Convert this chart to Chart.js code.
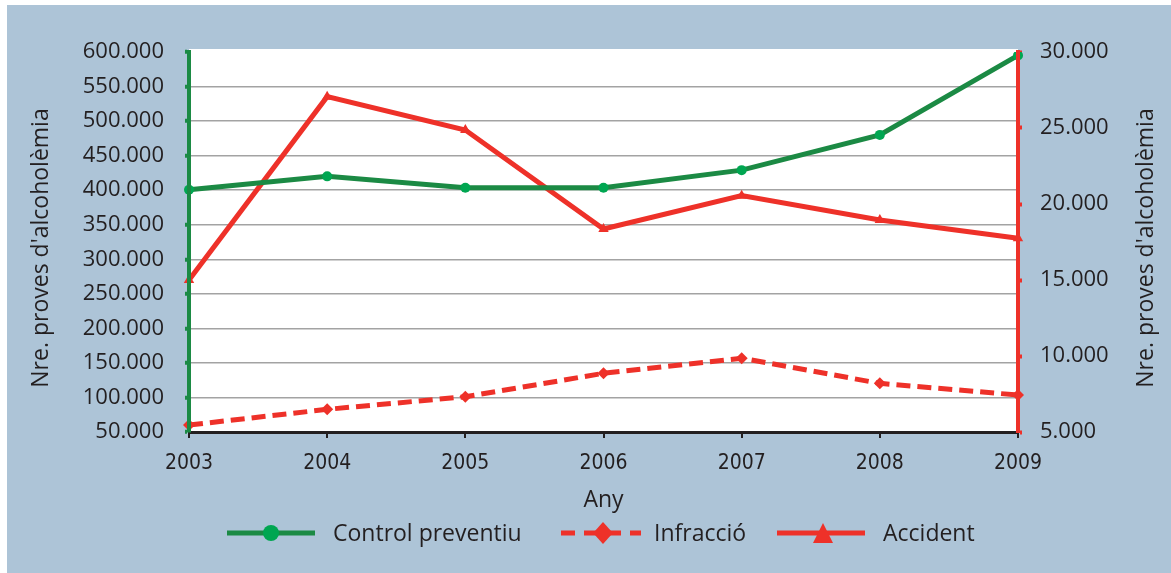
<!DOCTYPE html>
<html>
<head>
<meta charset="utf-8">
<script src="https://cdn.jsdelivr.net/npm/chart.js@4"></script>
<style>
  html, body { margin: 0; padding: 0; background: #fff; }
  #wrap { width: 1171px; height: 573px; }
</style>
</head>
<body>
<div id="wrap"><canvas id="myChart" width="1171" height="573"></canvas></div>
<script>
const anys = ['2003', '2004', '2005', '2006', '2007', '2008', '2009']
const controlPreventiu = [400500, 420000, 403500, 403500, 429000, 480000, 595000]
const infraccio = [5460, 6490, 7320, 8860, 9850, 8200, 7430]
const accident = [15000, 27060, 24870, 18360, 20550, 18950, 17740]

const blau = '#adc4d7'
const verd = '#1b8a44'
const verdPunt = '#00a651'
const vermell = '#ee3129'
const textColor = '#231f20'
const fontNum = "'Open Sans', sans-serif"
const fontNarrow = "'DejaVu Sans Condensed', 'Liberation Sans Narrow', sans-serif"
const titolY = "Nre. proves d'alcoholèmia"

function punts(v) {
    return String(v).replace(/\B(?=(\d{3})+(?!\d))/g, '.')
}

const fons = {
    id: 'fons',
    beforeDraw(chart) {
        const ctx = chart.ctx
        const a = chart.chartArea
        ctx.save()
        ctx.fillStyle = '#fff'
        ctx.fillRect(0, 0, chart.width, chart.height)
        ctx.fillStyle = blau
        ctx.fillRect(7, 5, chart.width - 7, chart.height - 5)
        ctx.fillStyle = '#fff'
        ctx.fillRect(a.left, a.top - 3, a.right - a.left, a.bottom - a.top + 3)
        ctx.restore()
    }
}

function marca(ctx, tipus, x, y, r, color) {
    ctx.fillStyle = color
    ctx.beginPath()
    if (tipus == 'circle') {
        ctx.arc(x, y, r, 0, Math.PI * 2)
    } else if (tipus == 'rectRot') {
        ctx.moveTo(x, y - r)
        ctx.lineTo(x + r * 0.9, y)
        ctx.lineTo(x, y + r)
        ctx.lineTo(x - r * 0.9, y)
    } else {
        ctx.moveTo(x, y - r)
        ctx.lineTo(x + r, y + r)
        ctx.lineTo(x - r, y + r)
    }
    ctx.closePath()
    ctx.fill()
}

// títols verticals (tots dos de baix a dalt) i llegenda amb línia + marcador
const llegenda = {
    id: 'llegenda',
    afterDraw(chart) {
        const ctx = chart.ctx
        ctx.save()
        ctx.fillStyle = textColor
        ctx.font = "23px " + fontNum
        ctx.textAlign = 'center'
        ctx.textBaseline = 'middle'
        ;[41, 1146].forEach(x => {
            ctx.save()
            ctx.translate(x, 248)
            ctx.rotate(-Math.PI / 2)
            ctx.fillText(titolY, 0, 0)
            ctx.restore()
        })

        const items = [
            { x0: 227, x1: 315, mx: 271, r: 8, text: 333 },
            { x0: 561, x1: 641, mx: 603, r: 11, text: 654 },
            { x0: 777, x1: 865, mx: 823, r: 10, text: 883 }
        ]
        const y = 533
        chart.data.datasets.forEach((ds, i) => {
            const it = items[i]
            ctx.strokeStyle = ds.borderColor
            ctx.lineWidth = 5
            ctx.setLineDash(ds.borderDash ? [14, 9] : [])
            ctx.beginPath()
            ctx.moveTo(it.x0, y)
            ctx.lineTo(it.x1, y)
            ctx.stroke()
            ctx.setLineDash([])
            marca(ctx, ds.pointStyle, it.mx, y, it.r, ds.pointBackgroundColor)
            ctx.fillStyle = textColor
            ctx.font = "23px " + fontNum
            ctx.textAlign = 'left'
            ctx.fillText(ds.label, it.text, y + 1)
        })
        ctx.restore()
    }
}

const ctx = document.getElementById('myChart').getContext('2d')
const myChart = new Chart(ctx, {
    type: 'line',
    data: {
        labels: anys,
        datasets: [{
            label: 'Control preventiu',
            data: controlPreventiu,
            yAxisID: 'y',
            borderColor: verd,
            borderWidth: 5,
            pointStyle: 'circle',
            pointRadius: 5,
            pointBackgroundColor: verdPunt,
            pointBorderWidth: 0,
            tension: 0
        }, {
            label: 'Infracció',
            data: infraccio,
            yAxisID: 'y2',
            borderColor: vermell,
            borderWidth: 5,
            borderDash: [14, 7],
            pointStyle: 'rectRot',
            pointRadius: 6,
            pointBackgroundColor: vermell,
            pointBorderWidth: 0,
            tension: 0
        }, {
            label: 'Accident',
            data: accident,
            yAxisID: 'y2',
            borderColor: vermell,
            borderWidth: 5,
            pointStyle: 'triangle',
            pointRadius: 6,
            pointBackgroundColor: vermell,
            pointBorderWidth: 0,
            tension: 0
        }]
    },
    options: {
        responsive: false,
        animation: false,
        events: [],
        layout: { padding: { top: 52, left: 0, right: 0, bottom: 0 } },
        plugins: {
            legend: { display: false },
            tooltip: { enabled: false }
        },
        scales: {
            x: {
                type: 'category',
                offset: false,
                afterFit: s => { s.height = 141 },
                grid: { drawOnChartArea: false, color: '#000', tickColor: '#231f20', tickLength: 6, lineWidth: 2 },
                border: { color: '#231f20', width: 3, z: 1 },
                ticks: { color: textColor, font: { family: fontNarrow, size: 21 }, padding: 13, maxRotation: 0 },
                title: { display: true, text: 'Any', color: textColor, font: { family: fontNum, size: 23 }, padding: { bottom: 59 } }
            },
            y: {
                position: 'left',
                min: 50000,
                max: 600000,
                afterFit: s => { s.width = 189 },
                grid: {
                    color: c => c.tick && c.tick.value == 600000 ? 'rgba(0,0,0,0)' : '#a3a3a3',
                    lineWidth: 1.5, tickColor: verd, tickLength: 4, tickWidth: 4
                },
                border: { color: verd, width: 4, z: 1 },
                ticks: { stepSize: 50000, color: textColor, font: { family: fontNum, size: 22 }, padding: 21, callback: v => punts(v) }
            },
            y2: {
                position: 'right',
                min: 5000,
                max: 30000,
                afterFit: s => { s.width = 153 },
                grid: { drawOnChartArea: false, tickColor: vermell, tickLength: 4, tickWidth: 4 },
                border: { color: vermell, width: 4, z: 1 },
                ticks: { stepSize: 5000, color: textColor, font: { family: fontNum, size: 22 }, padding: 18, callback: v => punts(v) }
            }
        }
    },
    plugins: [fons, llegenda]
})
</script>
</body>
</html>
